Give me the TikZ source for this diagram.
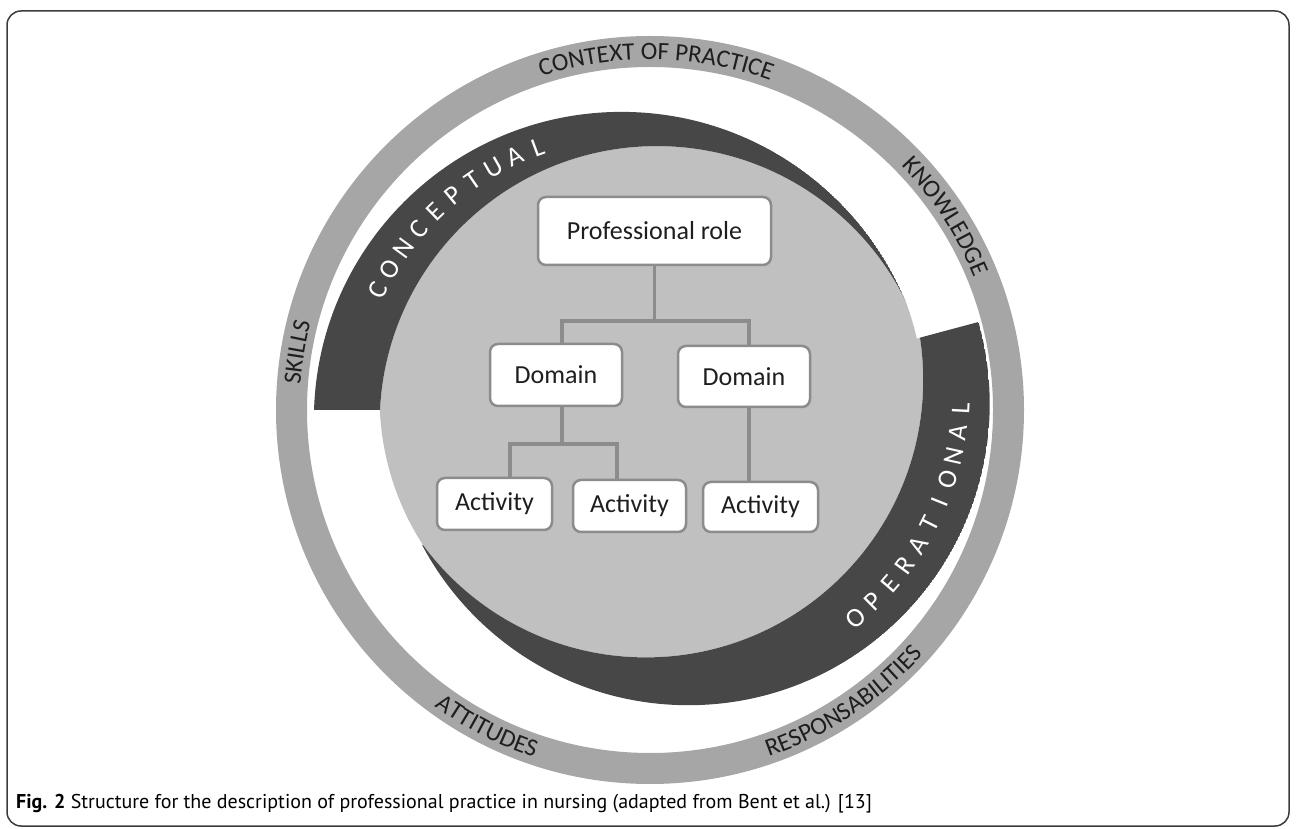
\documentclass[tikz,border=0pt]{standalone}
\usepackage{fontspec}
\setmainfont{Carlito}
\newfontfamily\capfamily{PT Sans}
\usetikzlibrary{decorations.text,calc}
\definecolor{ringgray}{HTML}{A6A6A6}
\definecolor{discgray}{HTML}{C0C0C0}
\definecolor{banddark}{HTML}{474747}
\definecolor{boxline}{HTML}{8C8C8C}
\definecolor{txt}{HTML}{1E1E1E}
\definecolor{framecol}{HTML}{3C3C3C}
\newcommand{\ringfont}{\fontsize{25}{25}\selectfont}
\newcommand{\boxfont}{\fontsize{26}{30}\selectfont}
\newcommand{\bandfont}{\fontsize{27}{27}\selectfont}
\newcommand{\capfont}{\capfamily\fontsize{20}{22}\selectfont}
\begin{document}
\begin{tikzpicture}[x=1pt,y=1pt,
  box/.style={draw=boxline, line width=2.5pt, fill=white, rounded corners=8pt, inner sep=0pt, font=\boxfont, text=txt},
  conn/.style={draw=boxline, line width=3.5pt},
  bandletter/.style={text=white, font=\bandfont, inner sep=0pt},
]
\useasboundingbox (0,0) rectangle (1296,828);
\draw[framecol, line width=1.5pt, rounded corners=14pt] (7,2) rectangle (1289,817);

\coordinate (C) at (650,418);
\coordinate (kc) at (639.2,406.6);
\coordinate (oc) at (667.2,436);

% outer ring
\fill[ringgray, even odd rule] (C) circle[radius=374] (C) circle[radius=343];

% inner disc: base
\fill[discgray] (C) circle[radius=245];
% disc in the two gaps
\begin{scope}
  \clip (C) -- ++(14.5:1200) arc[start angle=14.5, end angle=23.8, radius=1200] -- cycle;
  \fill[discgray] (651.4,430.3) circle[radius=271.8];
\end{scope}
\begin{scope}
  \clip (C) -- ++(179.5:1200) arc[start angle=179.5, end angle=211.2, radius=1200] -- cycle;
  \fill[discgray] (651.4,430.3) circle[radius=271.8];
\end{scope}
% conceptual sector: disc part and band
\begin{scope}
  \clip (C) -- ++(23.3:1200) arc[start angle=23.3, end angle=180, radius=1200] -- cycle;
  \fill[discgray] (656.9,404.7) circle[radius=277.2];
  \clip (621.5,408.5) circle[radius=307.6];
  \fill[banddark, even odd rule] (621.5,408.5) circle[radius=307.6] (656.9,404.7) circle[radius=277.2];
\end{scope}
% operational sector: disc part and band
\begin{scope}
  \clip (C) -- ++(210.7:1200) arc[start angle=210.7, end angle=375, radius=1200] -- cycle;
  \fill[discgray] (645.9,447.9) circle[radius=277.3];
  \clip (688.4,424.1) circle[radius=301.3];
  \fill[banddark, even odd rule] (688.4,424.1) circle[radius=301.3] (645.9,447.9) circle[radius=277.3];
\end{scope}

% band letters
\foreach \l [count=\i from 0, evaluate=\i as \ang using 153.4-4.79*\i] in {C,O,N,C,E,P,T,U,A,L} {
  \node[bandletter, rotate=\ang-90] (cl\i) at ($(kc)+(\ang:292.4)$) {\l};
}
\foreach \l [count=\i from 0, evaluate=\i as \ang using -50.15+4.7*\i] in {O,P,E,R,A,T,I,O,N,A,L} {
  \node[bandletter, rotate=\ang+90] (ol\i) at ($(oc)+(\ang:294)$) {\l};
}

% ring labels
\path[decorate, decoration={text along path, text align=center, text color=txt, text={|\ringfont|CONTEXT OF PRACTICE}}]
  (C) ++(134:350.5) arc[start angle=134, end angle=44, radius=350.5];
\path[decorate, decoration={text along path, text align=center, text color=txt, text={|\ringfont|KNOWLEDGE}}]
  (C) ++(73.2:350.5) arc[start angle=73.2, end angle=-6.8, radius=350.5];
\path[decorate, decoration={text along path, text align=center, text color=txt, text={|\ringfont|SKILLS}}]
  (C) ++(210.7:350.5) arc[start angle=210.7, end angle=130.7, radius=350.5];
\path[decorate, decoration={text along path, text align=center, text color=txt, text={|\ringfont|ATTITUDES}}]
  (C) ++(-157.2:366.5) arc[start angle=-157.2, end angle=-77.2, radius=366.5];
\path[decorate, decoration={text along path, text align=center, text color=txt, text={|\ringfont|RESPONSABILITIES}}]
  (C) ++(-96.4:366.5) arc[start angle=-96.4, end angle=-16.4, radius=366.5];

% boxes
\node[box, minimum width=233pt, minimum height=68pt] (pr) at (654.5,597) {Professional role};
\node[box, minimum width=132pt, minimum height=62pt] (d1) at (556,453) {Domain};
\node[box, minimum width=132pt, minimum height=61pt] (d2) at (744,451.5) {Domain};
\node[box, minimum width=115pt, minimum height=52pt] (a1) at (494.5,324) {Activity};
\node[box, minimum width=113pt, minimum height=52pt] (a2) at (629.5,322) {Activity};
\node[box, minimum width=115pt, minimum height=50pt] (a3) at (760.5,321) {Activity};

% connectors
\draw[conn] (pr.south) -- ++(0,-55) coordinate (j1);
\draw[conn] ($(d1.north)+(6,0)$) |- (j1);
\draw[conn] ($(d2.north)+(5,0)$) |- (j1);
\draw[conn] ($(d1.south)+(6,0)$) -- ++(0,-37) coordinate (j2);
\draw[conn] ($(a1.north)+(15.5,0)$) |- (j2);
\draw[conn] ($(a2.north)+(-12.5,0)$) |- (j2);
\draw[conn] ($(d2.south)+(5,0)$) -- ($(a3.north)+(-11.5,0)$);

% caption
\node[anchor=base west, inner sep=0pt, font=\capfont, text=black] (cap) at (16,19.5)
  {\textbf{Fig. 2} Structure for the description of professional practice in nursing (adapted from Bent et al.) [13]};
\end{tikzpicture}
\end{document}
